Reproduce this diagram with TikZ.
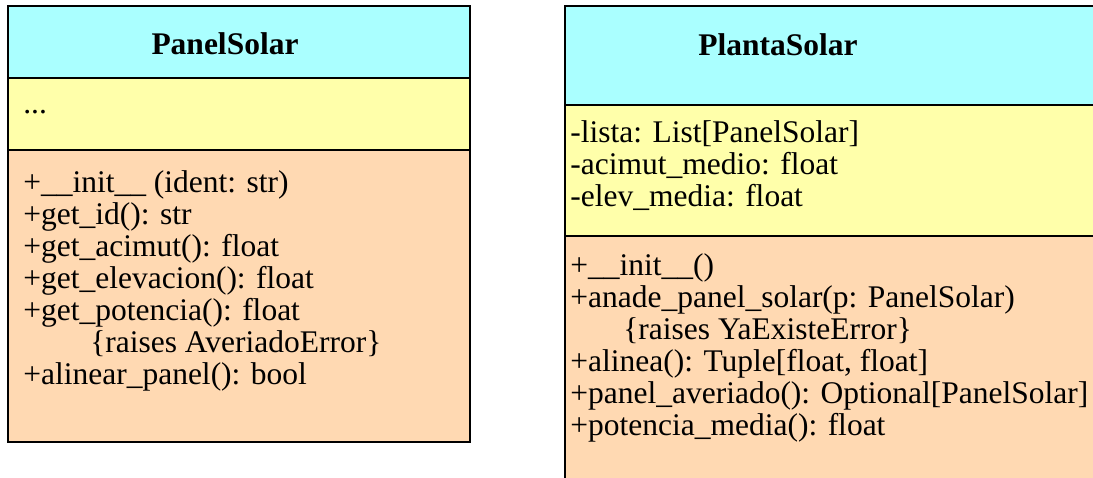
\documentclass[tikz,border=0pt]{standalone}
\usepackage{fontspec}
\setmainfont{Liberation Serif}
\definecolor{umlcyan}{RGB}{170,255,255}
\definecolor{umlyellow}{RGB}{255,255,170}
\definecolor{umlpeach}{RGB}{255,217,178}
\begin{document}
\begin{tikzpicture}[x=1pt,y=-1pt,line width=2.6pt,
  comp/.style={draw=black,rectangle,anchor=north west,inner sep=0pt,outer sep=0pt},
  txt/.style={anchor=base west,inner sep=0pt,align=left,font=\fontsize{31.5}{32}\selectfont},
  ttl/.style={anchor=base,inner sep=0pt,font=\fontsize{31.5}{32}\selectfont\bfseries}]
\useasboundingbox (0,0) rectangle (1093,477);
\clip (0,0) rectangle (1093,477);
% PanelSolar
\node[comp,fill=umlcyan,minimum width=462pt,minimum height=72pt] (pn) at (8,6) {};
\node[comp,fill=umlyellow,minimum width=462pt,minimum height=72pt] (pa) at (8,78) {};
\node[comp,fill=umlpeach,minimum width=462pt,minimum height=292pt] (pm) at (8,150) {};
\node[ttl] (pnt) at (225,54) {PanelSolar};
\node[txt] (pat) at (22,113) {...};
% base anchor = baseline of the last line
\node[txt] (pmt) at (22,384) {+\_\_init\_\_ (ident: str)\\
+get\_id(): str\\
+get\_acimut(): float\\
+get\_elevacion(): float\\
+get\_potencia(): float\\
\hspace*{67pt}\{raises AveriadoError\}\\
+alinear\_panel(): bool};
% PlantaSolar
\node[comp,fill=umlcyan,minimum width=560pt,minimum height=99pt] (sn) at (565,6) {};
\node[comp,fill=umlyellow,minimum width=560pt,minimum height=131pt] (sa) at (565,105) {};
\node[comp,fill=umlpeach,minimum width=560pt,minimum height=270pt] (sm) at (565,236) {};
\node[ttl] (snt) at (778,55) {PlantaSolar};
\node[txt] (sat) at (569,206) {-lista: List[PanelSolar]\\
-acimut\_medio: float\\
-elev\_media: float};
\node[txt] (smt) at (569,435) {+\_\_init\_\_()\\
+anade\_panel\_solar(p: PanelSolar)\\
\hspace*{53pt}\{raises YaExisteError\}\\
+alinea(): Tuple[float, float]\\
+panel\_averiado(): Optional[PanelSolar]\\
+potencia\_media(): float};
\end{tikzpicture}
\end{document}
